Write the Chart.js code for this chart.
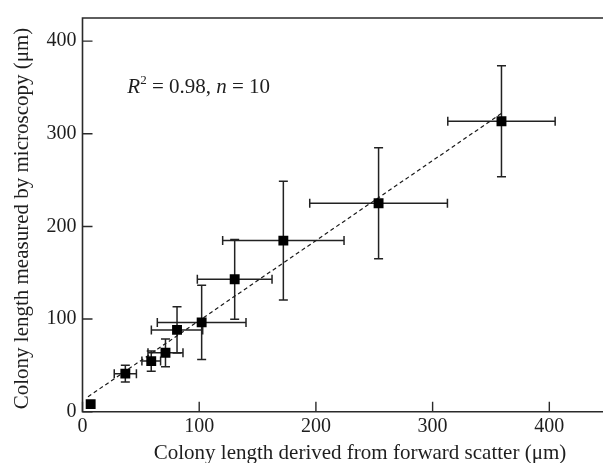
<!DOCTYPE html>
<html>
<head>
<meta charset="utf-8">
<script src="https://cdn.jsdelivr.net/npm/chart.js@4.4.1/dist/chart.umd.min.js"></script>
<style>
  html, body { margin: 0; padding: 0; background: #fff; }
  #wrap { width: 603px; height: 463px; }
</style>
</head>
<body>
<div id="wrap"><canvas id="c" width="603" height="463"></canvas></div>
<script>
// ---- data ----
const xVals = [7, 36.7, 58.9, 71.1, 81, 102.1, 130.4, 172.1, 253.7, 359];
const yVals = [8.2, 41.1, 54.6, 63.6, 88.3, 96.4, 142.9, 184.7, 225, 313.5];
const xErr  = [0, 9.5, 8, 15, 22, 38, 32, 52, 59, 46];
const yErr  = [0, 9, 11, 15, 25, 40, 43, 64, 60, 60];
const fitX  = [4.7, 359];
const fitY  = [16.1, 322];
const xTicks = [0, 100, 200, 300, 400];
const yTicks = [0, 100, 200, 300, 400];
const xTitle = 'Colony length derived from forward scatter (\u03bcm)';
const yTitle = 'Colony length measured by microscopy (\u03bcm)';
const annotationPos = [38.4, 352];

const FONT = '"Liberation Serif", "Times New Roman", serif';
const INK = '#1e1e1e';

const pointData = xVals.map((x, i) => ({ x, y: yVals[i] }));
const fitData = fitX.map((x, i) => ({ x, y: fitY[i] }));

const decorPlugin = {
  id: 'decor',
  beforeDatasetsDraw(chart) {
    const { ctx, scales: { x, y } } = chart;
    ctx.save();
    ctx.strokeStyle = '#222';
    ctx.lineWidth = 1.5;
    const cap = 4.5;
    for (let i = 0; i < xVals.length; i++) {
      const px = x.getPixelForValue(xVals[i]);
      const py = y.getPixelForValue(yVals[i]);
      if (xErr[i] > 0) {
        const l = x.getPixelForValue(xVals[i] - xErr[i]);
        const r = x.getPixelForValue(xVals[i] + xErr[i]);
        ctx.beginPath();
        ctx.moveTo(l, py); ctx.lineTo(r, py);
        ctx.moveTo(l, py - cap); ctx.lineTo(l, py + cap);
        ctx.moveTo(r, py - cap); ctx.lineTo(r, py + cap);
        ctx.stroke();
      }
      if (yErr[i] > 0) {
        const t = y.getPixelForValue(yVals[i] + yErr[i]);
        const b = y.getPixelForValue(yVals[i] - yErr[i]);
        ctx.beginPath();
        ctx.moveTo(px, t); ctx.lineTo(px, b);
        ctx.moveTo(px - cap, t); ctx.lineTo(px + cap, t);
        ctx.moveTo(px - cap, b); ctx.lineTo(px + cap, b);
        ctx.stroke();
      }
    }
    ctx.restore();
  },
  afterDraw(chart) {
    const { ctx, chartArea: a, scales: { x, y } } = chart;
    ctx.save();
    // frame (top, left, bottom)
    ctx.strokeStyle = '#2a2a2a';
    ctx.lineWidth = 1.6;
    ctx.beginPath();
    ctx.moveTo(chart.width, a.top);
    ctx.lineTo(a.left, a.top);
    ctx.lineTo(a.left, a.bottom);
    ctx.lineTo(chart.width, a.bottom);
    ctx.stroke();
    // inward ticks
    ctx.lineWidth = 1.4;
    ctx.beginPath();
    xTicks.forEach(v => {
      const px = x.getPixelForValue(v);
      ctx.moveTo(px, a.bottom); ctx.lineTo(px, a.bottom - 10);
    });
    yTicks.forEach(v => {
      const py = y.getPixelForValue(v);
      ctx.moveTo(a.left, py); ctx.lineTo(a.left + 10, py);
    });
    ctx.stroke();

    // annotation  R² = 0.98, n = 10
    ctx.fillStyle = INK;
    ctx.textBaseline = 'alphabetic';
    ctx.textAlign = 'left';
    let ax = x.getPixelForValue(annotationPos[0]);
    const ay = y.getPixelForValue(annotationPos[1]) + 7;
    const parts = [
      { t: 'R', f: 'italic 21px ' + FONT, dy: 0 },
      { t: '2', f: '13px ' + FONT, dy: -9 },
      { t: ' = 0.98, ', f: '21px ' + FONT, dy: 0 },
      { t: 'n', f: 'italic 21px ' + FONT, dy: 0 },
      { t: ' = 10', f: '21px ' + FONT, dy: 0 }
    ];
    parts.forEach(p => {
      ctx.font = p.f;
      ctx.fillText(p.t, ax, ay + p.dy);
      ax += ctx.measureText(p.t).width;
    });

    // axis titles
    ctx.font = '21px ' + FONT;
    ctx.textAlign = 'center';
    ctx.textBaseline = 'middle';
    ctx.fillText(xTitle, 360, 453);
    ctx.translate(22, 218.5);
    ctx.rotate(-Math.PI / 2);
    ctx.fillText(yTitle, 0, 0);
    ctx.restore();
  }
};

new Chart(document.getElementById('c'), {
  type: 'scatter',
  data: {
    datasets: [
      {
        data: fitData,
        showLine: true,
        borderColor: '#1a1a1a',
        borderWidth: 1.2,
        borderDash: [4, 3],
        pointRadius: 0,
        fill: false,
        order: 2
      },
      {
        data: pointData,
        pointStyle: 'rect',
        pointRadius: 7,
        pointHoverRadius: 7,
        backgroundColor: '#000',
        borderColor: '#000',
        borderWidth: 0,
        order: 1
      }
    ]
  },
  options: {
    responsive: false,
    animation: false,
    events: [],
    layout: { padding: { left: 0, top: 15, right: 1, bottom: 0 } },
    plugins: { legend: { display: false }, tooltip: { enabled: false } },
    scales: {
      x: {
        type: 'linear',
        min: 0, max: 440,
        afterBuildTicks: s => { s.ticks = xTicks.map(v => ({ value: v })); },
        afterFit: s => { s.height = 51.3; },
        grid: { display: false, drawTicks: false },
        border: { display: false },
        ticks: { font: { family: FONT, size: 20 }, color: INK, padding: 3, maxRotation: 0 }
      },
      y: {
        type: 'linear',
        min: 0, max: 425,
        afterBuildTicks: s => { s.ticks = yTicks.map(v => ({ value: v })); },
        afterFit: s => { s.width = 82.5; },
        grid: { display: false, drawTicks: false },
        border: { display: false },
        ticks: { font: { family: FONT, size: 20 }, color: INK, padding: 6 }
      }
    }
  },
  plugins: [decorPlugin]
});
</script>
</body>
</html>
